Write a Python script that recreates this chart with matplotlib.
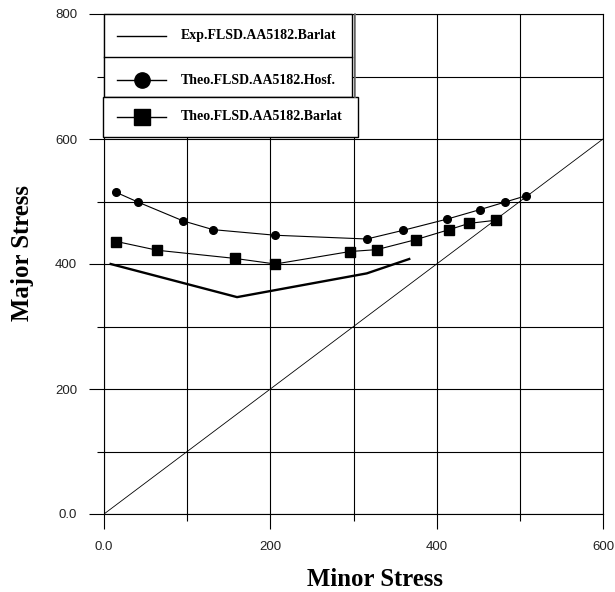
import matplotlib
matplotlib.use("Agg")
import matplotlib.pyplot as plt
from matplotlib.patches import Rectangle
from matplotlib.lines import Line2D
from matplotlib.ticker import MultipleLocator, FixedLocator, FixedFormatter

# ---- data ----
exp_barlat_x = [8, 160, 316, 367]
exp_barlat_y = [400, 347, 385, 408]

hosf_x = [14, 41, 95, 131, 206, 316, 360, 413, 452, 482, 507]
hosf_y = [515, 499, 469, 455, 446, 440, 454, 472, 487, 499, 509]

barlat_x = [15, 64, 157, 206, 296, 328, 375, 415, 439, 471]
barlat_y = [436, 422, 409, 400, 420, 423, 439, 455, 465, 470]

diag_x = [0, 600]
diag_y = [0, 600]

x_ticks = [0, 200, 400, 600]
x_tick_labels = ["0.0", "200", "400", "600"]
y_ticks = [0, 200, 400, 600, 800]
y_tick_labels = ["0.0", "200", "400", "600", "800"]

legend_labels = ["Exp.FLSD.AA5182.Barlat", "Theo.FLSD.AA5182.Hosf.", "Theo.FLSD.AA5182.Barlat"]

W, H = 615, 592
fig = plt.figure(figsize=(W / 100, H / 100), dpi=100)
L, R, T, B = 104, 603, 14, 514
ax = fig.add_axes([L / W, 1 - B / H, (R - L) / W, (B - T) / H])

ax.set_xlim(0, 600)
ax.set_ylim(0, 800)

# lines
ax.plot(diag_x, diag_y, color="black", lw=0.6, zorder=3)
ax.plot(exp_barlat_x, exp_barlat_y, color="black", lw=1.7, zorder=4)
ax.plot(hosf_x, hosf_y, color="black", lw=0.8, marker="o", ms=5.5, zorder=4)
ax.plot(barlat_x, barlat_y, color="black", lw=0.8, marker="s", ms=7.5, zorder=4)

# ticks / grid
ax.xaxis.set_major_locator(FixedLocator(x_ticks))
ax.xaxis.set_major_formatter(FixedFormatter(x_tick_labels))
ax.yaxis.set_major_locator(FixedLocator(y_ticks))
ax.yaxis.set_major_formatter(FixedFormatter(y_tick_labels))
ax.xaxis.set_minor_locator(MultipleLocator(100))
ax.yaxis.set_minor_locator(MultipleLocator(100))
ax.grid(True, which="both", color="black", lw=0.8, zorder=1)
ax.set_axisbelow(True)
ax.tick_params(which="major", direction="out", length=10.8, width=0.8, color="black",
               labelsize=9.5, labelcolor="#222222")
ax.tick_params(which="minor", direction="out", length=5, width=0.8, color="black")
ax.tick_params(axis="x", which="major", pad=9)
ax.tick_params(axis="y", which="major", pad=8.5)
for lab in ax.get_xticklabels() + ax.get_yticklabels():
    lab.set_fontfamily("Liberation Sans")
for s in ax.spines.values():
    s.set_linewidth(0.8)
    s.set_color("black")

# axis titles
fig.text(374.7 / W, 1 - 580 / H, "Minor Stress", ha="center", va="center",
         fontsize=17.8, fontweight="bold", family="Liberation Serif")
fig.text(23 / W, 1 - 253 / H, "Major Stress", ha="center", va="center", rotation=90,
         fontsize=17.8, fontweight="bold", family="Liberation Serif")

# ---- manual legend ----
def ax_xy(px, py):
    return ((px - L) / (R - L), (B - py) / (B - T))

def box(x0, y0, x1, y1, lw=1.0, ec="black"):
    (ax0, ay1), (ax1, ay0) = ax_xy(x0, y0), ax_xy(x1, y1)
    ax.add_patch(Rectangle((ax0, ay0), ax1 - ax0, ay1 - ay0, transform=ax.transAxes,
                           facecolor="white", edgecolor=ec, lw=lw, zorder=10, clip_on=False))

def hline(x0, x1, py, lw=1.0, color="black", z=11):
    a, y = ax_xy(x0, py)
    b, _ = ax_xy(x1, py)
    ax.add_line(Line2D([a, b], [y, y], transform=ax.transAxes, color=color, lw=lw,
                       zorder=z, clip_on=False))

def vline(px, y0, y1, lw=1.0, color="black", z=11):
    x, a = ax_xy(px, y0)
    _, b = ax_xy(px, y1)
    ax.add_line(Line2D([x, x], [a, b], transform=ax.transAxes, color=color, lw=lw,
                       zorder=z, clip_on=False))

box(104, 14, 352, 96.7)
vline(354.5, 14, 96.7, lw=1.2, color="#777777")
hline(104, 352, 57.3)
box(102.7, 96.7, 358.3, 137.3)

markers = [None, "o", "s"]
msizes = [0, 11, 12]
rows = [36, 80, 117]
for lab, mk, msz, py in zip(legend_labels, markers, msizes, rows):
    a, y = ax_xy(117, py)
    b, _ = ax_xy(166, py)
    ax.add_line(Line2D([a, b], [y, y], transform=ax.transAxes, color="black",
                       lw=1.0, zorder=12, clip_on=False))
    if mk:
        c, _ = ax_xy(141.5, py)
        ax.add_line(Line2D([c], [y], transform=ax.transAxes, color="black", marker=mk,
                           ms=msz, lw=0, zorder=12, clip_on=False))
    tx, _ = ax_xy(180.7, py)
    ax.text(tx, y, lab, transform=ax.transAxes, ha="left", va="center", fontsize=10,
            fontweight="bold", family="Liberation Serif", zorder=13)

fig.savefig("out.png", dpi=100)
